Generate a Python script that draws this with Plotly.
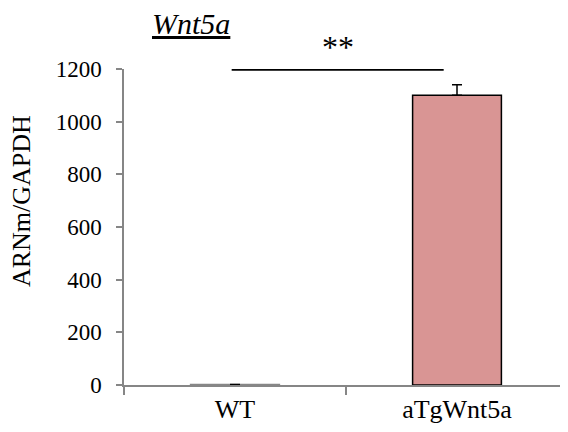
import plotly.graph_objects as go

categories = ["WT", "aTgWnt5a"]
values = [2, 1100]
errors_plus = [0, 40]
errors_minus = [0, 0]
bar_colors = ["#D99594", "#D99594"]
line_colors = ["#868686", "#000000"]
y_ticks = [0, 200, 400, 600, 800, 1000, 1200]

FONT = "Liberation Serif"

fig = go.Figure()
fig.add_trace(go.Bar(
    x=categories, y=values,
    width=0.4,
    marker=dict(color=bar_colors, line=dict(color=line_colors, width=1.5)),
    error_y=dict(type="data", array=errors_plus, arrayminus=errors_minus,
                 symmetric=False, visible=True, color="black",
                 thickness=1.5, width=5),
))

fig.update_layout(
    width=560, height=424,
    margin=dict(l=116, r=0, t=61, b=47),
    plot_bgcolor="white", paper_bgcolor="white",
    showlegend=False,
    font=dict(family=FONT, size=24, color="black"),
    xaxis=dict(
        type="category",
        showline=True, linecolor="#868686", linewidth=1.5,
        ticks="outside", tickson="boundaries", ticklen=8, tickcolor="#868686",
        tickwidth=1.5,
        tickfont=dict(family=FONT, size=26),
        showgrid=False, zeroline=False,
    ),
    yaxis=dict(
        range=[0, 1200],
        tickvals=y_ticks,
        showline=True, linecolor="#868686", linewidth=1.5,
        ticks="outside", ticklen=6, tickcolor="#868686", tickwidth=1.5,
        ticklabelstandoff=10,
        tickfont=dict(family=FONT, size=23),
        showgrid=False, zeroline=False,
    ),
)

# y axis title
fig.add_annotation(
    text="ARNm/GAPDH", textangle=-90,
    xref="paper", yref="paper", x=-0.232, y=0.582,
    xanchor="center", yanchor="middle",
    showarrow=False, font=dict(family=FONT, size=26),
)
# chart title
fig.add_annotation(
    text="<u><i>Wnt5a</i></u>",
    xref="paper", yref="paper", x=0.0586, y=1.145,
    xanchor="left", yanchor="middle",
    showarrow=False, font=dict(family=FONT, size=30),
)
# significance bar
fig.add_shape(type="line", xref="x", yref="y",
              x0=-0.015, x1=0.94, y0=1200, y1=1200,
              line=dict(color="black", width=3.5))
fig.add_annotation(
    text="**", xref="paper", yref="paper", x=0.482, y=1.07,
    xanchor="center", yanchor="middle",
    showarrow=False, font=dict(family=FONT, size=32),
)

fig.write_html("out.html")
